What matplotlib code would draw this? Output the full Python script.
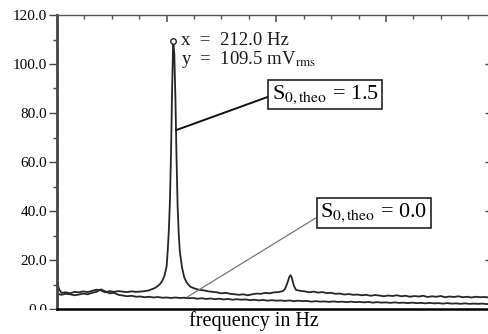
import matplotlib
matplotlib.use("Agg")
import matplotlib.pyplot as plt
from matplotlib.patches import Rectangle

plt.rcParams["font.family"] = ["Liberation Serif", "DejaVu Serif"]
plt.rcParams["mathtext.fontset"] = "stix"

# spectrum with S0,theo = 1.5 (big resonance at 212 Hz)
freq_a = [159, 160, 161, 163, 165, 167, 169, 171, 173, 175, 177, 179, 181, 183,
          185, 187, 189, 191, 193, 195, 197, 199, 201, 202, 203, 204, 205, 206,
          207, 208, 209, 209.5, 210, 210.5, 211, 211.5, 212, 212.5, 213, 213.5,
          214, 214.5, 215, 216, 217, 218, 219, 220, 222, 224, 226, 228, 230,
          232, 234, 236, 238, 240, 242, 244, 246, 248, 250, 252, 254, 256, 258,
          260, 262, 263, 264, 265, 265.5, 266, 267, 268, 270, 272, 274, 276,
          278, 280, 282, 284, 286, 288, 290, 292, 294, 296, 298, 300, 302, 304,
          306, 308, 310, 312, 314, 316, 318, 320, 322, 324, 326, 328, 330, 332,
          334, 336, 338, 340, 342, 344, 346, 348, 350, 352, 354, 356]
level_a = [11.0, 8.0, 6.6, 6.8, 6.4, 7.0, 6.8, 7.2, 6.9, 7.4, 7.9, 7.6, 6.8, 7.3,
           7.0, 7.3, 7.1, 6.9, 7.2, 7.0, 7.1, 7.3, 7.6, 8.0, 8.3, 8.8, 9.4, 10.2,
           11.5, 13.5, 17.5, 24.0, 32.0, 44.0, 64.0, 90.0, 109.5, 104.0, 86.0, 62.0,
           42.0, 31.0, 23.5, 17.0, 13.0, 11.0, 9.8, 9.0, 8.3, 7.8, 7.6, 7.2, 7.0,
           6.8, 6.4, 6.6, 6.2, 6.0, 5.8, 6.0, 5.6, 6.0, 6.3, 6.2, 6.6, 6.4, 6.8,
           6.9, 7.3, 8.2, 10.5, 13.2, 13.8, 13.0, 9.5, 7.8, 7.4, 7.2, 6.8, 7.1,
           6.7, 6.9, 6.5, 6.6, 6.2, 6.3, 5.9, 6.1, 5.8, 5.9, 5.6, 5.8, 5.4, 5.7,
           5.5, 5.2, 5.5, 5.3, 5.6, 5.2, 5.4, 5.0, 5.3, 5.1, 5.4, 4.9, 5.2, 5.0,
           5.3, 4.8, 5.1, 4.9, 5.2, 4.8, 5.0, 4.7, 5.0, 4.8, 4.9, 4.7]

# spectrum with S0,theo = 0.0 (no resonance)
freq_b = [159, 161, 163, 165, 167, 169, 171, 173, 175, 177, 179, 181, 183, 185,
          187, 189, 191, 193, 195, 197, 199, 201, 203, 205, 207, 209, 211, 213,
          215, 217, 219, 221, 223, 225, 227, 229, 231, 233, 235, 237, 239, 241,
          243, 245, 247, 249, 251, 253, 255, 257, 259, 261, 263, 265, 267, 269,
          271, 273, 275, 277, 279, 281, 283, 285, 287, 289, 291, 293, 295, 297,
          299, 301, 303, 305, 307, 309, 311, 313, 315, 317, 319, 321, 323, 325,
          327, 329, 331, 333, 335, 337, 339, 341, 343, 345, 347, 349, 351, 353,
          355, 356]
level_b = [6.2, 5.8, 6.2, 6.0, 5.6, 5.9, 6.3, 6.0, 6.6, 7.0, 8.0, 7.2, 6.4, 6.6,
           5.8, 5.5, 5.2, 5.4, 5.0, 5.1, 4.8, 5.0, 4.7, 4.9, 4.6, 4.7, 4.5, 4.7,
           4.5, 4.6, 4.4, 4.5, 4.2, 4.4, 4.1, 4.3, 4.0, 4.2, 3.9, 4.1, 3.8, 4.0,
           3.8, 3.9, 3.6, 3.8, 3.5, 3.7, 3.4, 3.6, 3.4, 3.5, 3.3, 3.5, 3.2, 3.4,
           3.2, 3.3, 3.0, 3.2, 3.0, 3.1, 2.9, 3.1, 2.9, 3.0, 2.8, 3.0, 2.8, 2.9,
           2.7, 2.9, 2.6, 2.8, 2.6, 2.7, 2.5, 2.7, 2.5, 2.6, 2.4, 2.6, 2.4, 2.5,
           2.3, 2.5, 2.3, 2.4, 2.2, 2.4, 2.2, 2.3, 2.1, 2.3, 2.1, 2.2, 2.1, 2.2,
           2.0, 2.1]

peak_f = 212.0
peak_v = 109.5

y_ticks = [0, 20, 40, 60, 80, 100, 120]
y_labels = ["0.0", "20.0", "40.0", "60.0", "80.0", "100.0", "120.0"]

fig = plt.figure(figsize=(4.88, 3.34), dpi=100)
ax = fig.add_axes([57 / 488, 25 / 334, 432 / 488, 294 / 334])

ax.plot(freq_b, level_b, color="#262626", lw=1.3)
ax.plot(freq_a, level_a, color="#262626", lw=1.3)
ax.plot([peak_f], [peak_v], "o", ms=4, mfc="white", mec="#262626", mew=1.0)

ax.set_xlim(159, 356)
ax.set_ylim(0, 120)
ax.set_yticks(y_ticks)
ax.set_yticklabels(y_labels, fontsize=11)
ax.set_yticks(range(10, 120, 20), minor=True)
ax.set_xticks([209, 259, 309])
ax.set_xticks([171.5, 184, 196.5, 221.5, 234, 246.5, 271.5, 284, 296.5, 321.5, 334, 346.5], minor=True)

ax.tick_params(axis="y", which="major", direction="out", length=6, width=1.0, color="#444444", pad=1)
ax.tick_params(axis="y", which="minor", direction="out", length=3, width=1.0, color="#444444")
ax.tick_params(axis="x", which="both", bottom=False, top=True, labelbottom=False, direction="in", color="#555555")
ax.tick_params(axis="x", which="major", length=5, width=1.2)
ax.tick_params(axis="x", which="minor", length=3, width=1.0)

ax.spines["right"].set_visible(False)
ax.spines["left"].set_linewidth(2.0)
ax.spines["left"].set_color("#444444")
ax.spines["top"].set_linewidth(1.0)
ax.spines["top"].set_color("#555555")
ax.spines["bottom"].set_linewidth(1.8)
ax.spines["bottom"].set_color("black")

# inward ticks on the right edge
ax2 = ax.twinx()
ax2.set_ylim(0, 120)
ax2.set_yticks([20, 40, 60, 80, 100])
ax2.tick_params(axis="y", direction="in", length=3, width=1.0, color="#444444", labelright=False)
for s in ax2.spines.values():
    s.set_visible(False)

ax.text(215.5, 113.2, "x  =  212.0 Hz\ny  =  109.5 mV$_{\\mathrm{rms}}$", fontsize=13.5,
        va="top", ha="left", linespacing=1.0, color="#1a1a1a")

ax.annotate("S$_{\\mathrm{0,theo}}$ = 1.5", xy=(213.3, 73.0), xytext=(281.3, 87.6),
            fontsize=16, ha="center", va="center",
            bbox=dict(boxstyle="square,pad=0.15", fc="white", ec="#222222", lw=1.2),
            arrowprops=dict(arrowstyle="-", color="#111111", lw=1.4, relpos=(0, 0.45),
                            shrinkA=0, shrinkB=0))
ax.annotate("S$_{\\mathrm{0,theo}}$ = 0.0", xy=(218.4, 4.9), xytext=(303.5, 39.2),
            fontsize=16, ha="center", va="center",
            bbox=dict(boxstyle="square,pad=0.15", fc="white", ec="#222222", lw=1.2),
            arrowprops=dict(arrowstyle="-", color="#777777", lw=0.9, relpos=(0, 0.4),
                            shrinkA=0, shrinkB=0))

# the lowest tick label is cut off by the frame edge in the original
fig.patches.append(Rectangle((0, 0), 56 / 488, 24 / 334, transform=fig.transFigure,
                             fc="white", ec="none", zorder=5))

fig.text(253.5 / 488, 1 - 326 / 334, "frequency in Hz", fontsize=14.5, ha="center", va="baseline")

fig.savefig("out.png", dpi=100)
